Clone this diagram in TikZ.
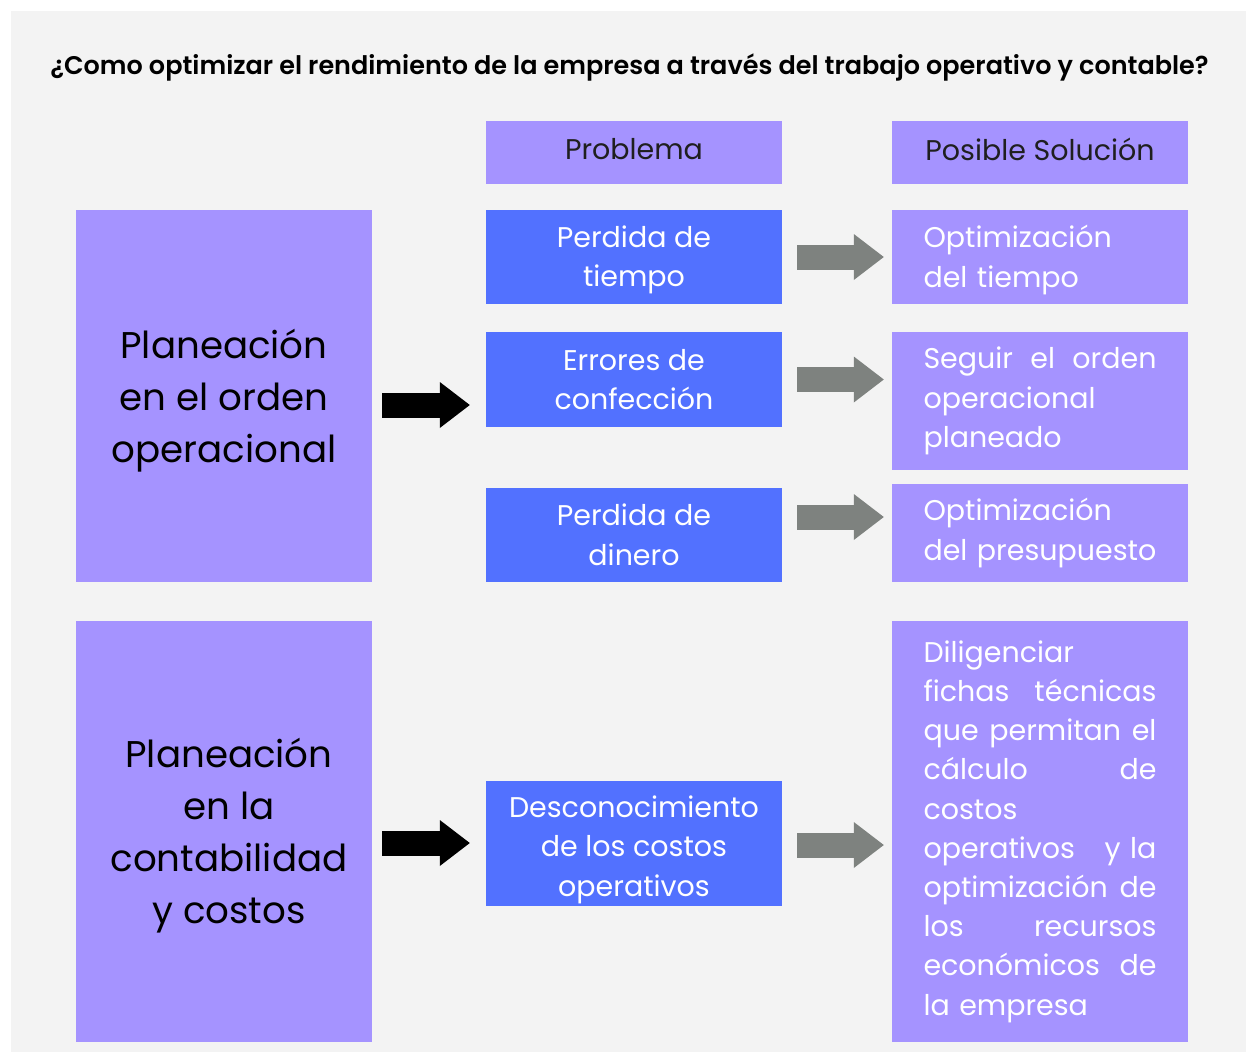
\documentclass[tikz,border=0pt]{standalone}
\usepackage{fontspec}
\setmainfont{Poppins}[BoldFont={* SemiBold}]
\usetikzlibrary{arrows.meta}
\definecolor{bgc}{HTML}{F3F3F3}
\definecolor{lila}{HTML}{A593FF}
\definecolor{azul}{HTML}{5271FF}
\definecolor{gris}{HTML}{7E827F}
\newcommand\dnshift[2]{\raisebox{0pt}[\dimexpr\height+#1\relax]{#2}}
\tikzset{
  box/.style={rectangle, inner sep=0pt, minimum width=296pt, anchor=center},
  headbox/.style={box, fill=lila, minimum height=63pt, text=black!88, font=\fontsize{28.5}{39}\selectfont},
  bigbox/.style={box, fill=lila, text=black, align=center, font=\fontsize{37.2}{52}\selectfont},
  probbox/.style={box, fill=azul, text=white, align=center, font=\fontsize{28.5}{39.5}\selectfont},
  solbox/.style={box, fill=lila, text=white, text width=233pt, align=left, font=\fontsize{28.5}{39.2}\selectfont},
  fatarrow/.style={line width=25pt, shorten <=#1, -{Triangle[length=30pt,width=46pt,line width=0pt]}},
  blackarrow/.style={fatarrow=10pt, draw=black, shorten >=16pt},
  grayarrow/.style={fatarrow=15pt, draw=gris, shorten >=8pt},
}
\begin{document}
\begin{tikzpicture}[x=1pt,y=-1pt]
\useasboundingbox (0,0) rectangle (1248,1053);
\fill[white] (0,0) rectangle (1248,1053);
\fill[bgc] (11,11) rectangle (1246,1052);
\node (title) at (629.5,67) {\fontsize{25.5}{30}\selectfont\bfseries ¿Como optimizar el rendimiento de la empresa a través del trabajo operativo y contable?};
% headers
\node[headbox] (hprob) at (634,152.5) {\raisebox{7pt}{Problema}};
\node[headbox] (hsol) at (1040,152.5) {\raisebox{7pt}{Posible Solución}};
% left boxes
\node[bigbox, minimum height=372pt] (plan1) at (224,396) {\dnshift{10pt}{Planeación}\\en el orden\\operacional};
\node[bigbox, minimum height=421pt] (plan2) at (224,831.5) {\hspace*{10pt}\dnshift{8pt}{Planeación}\\\hspace*{10pt}en la\\\hspace*{10pt}contabilidad\\\hspace*{10pt}y costos};
% problem boxes
\node[probbox, minimum height=94pt] (p1) at (634,257) {\dnshift{6pt}{Perdida de}\\tiempo};
\node[probbox, minimum height=95pt] (p2) at (634,379.5) {Errores de\\confección};
\node[probbox, minimum height=94pt] (p3) at (634,535) {Perdida de\\dinero};
\node[probbox, minimum height=125pt] (p4) at (634,843.5) {\dnshift{12pt}{Desconocimiento}\\de los costos\\operativos};
% solution boxes
\node[solbox, minimum height=94pt] (s1) at (1040,257) {\dnshift{6pt}{Optimización}\\del tiempo};
\node[solbox, minimum height=138pt] (s2) at (1040,401) {Seguir\hfill el\hfill orden\\operacional\\planeado};
\node[solbox, minimum height=98pt] (s3) at (1040,533) {Optimización\\del presupuesto};
\node[solbox, minimum height=421pt] (s4) at (1040,831.5) {Diligenciar\\fichas\hfill técnicas\\que\hfill permitan\hfill el\\cálculo\hfill de\\costos\\operativos\hfill y la\\optimización\hfill de\\los\hfill recursos\\económicos\hfill de\\la empresa};
% arrows
\draw[blackarrow] ([yshift=-9pt]plan1.east) -- ([yshift=-9pt]plan1.east -| p2.west);
\draw[blackarrow] ([yshift=-11.5pt]plan2.east) -- ([yshift=-11.5pt]plan2.east -| p4.west);
\draw[grayarrow] (p1.east) -- (s1.west |- p1.east);
\draw[grayarrow] (p2.east) -- (s2.west |- p2.east);
\draw[grayarrow] ([yshift=18pt]p3.east) -- ([yshift=18pt]p3.east -| s3.west);
\draw[grayarrow] ([yshift=-1.5pt]p4.east) -- ([yshift=-1.5pt]p4.east -| s4.west);
\end{tikzpicture}
\end{document}
